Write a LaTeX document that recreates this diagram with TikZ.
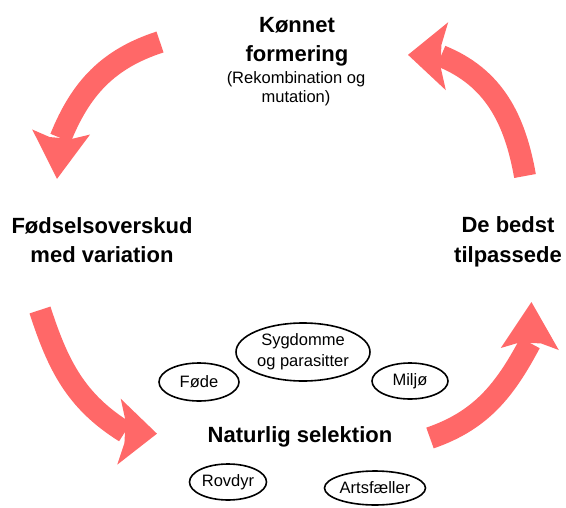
\documentclass[tikz,border=0pt]{standalone}
\usepackage{fontspec}
\setmainfont{Liberation Sans}
\usepgflibrary{shapes.geometric}
\usetikzlibrary{calc}
\definecolor{arrowred}{RGB}{255,104,104}

\begin{document}
\begin{tikzpicture}[thick, x=1pt, y=1pt,
	big/.style={font=\fontsize{22}{29.5}\selectfont\bfseries, align=center, inner sep=0pt},
	small/.style={font=\fontsize{16.5}{19}\selectfont, align=center, inner sep=0pt},
	oval/.style={ellipse, draw, line width=1.6pt, inner sep=0pt, align=center, font=\fontsize{16.5}{21}\selectfont},
	body/.style={arrowred, line width=22pt}]
	\useasboundingbox (0,0) rectangle (566,-507);
	%texts
	\node[big] (konnet) at (297,-42) {Kønnet\\formering};
	\node[small] (rekomb) at (296,-89) {(Rekombination og\\mutation)};
	\node[big] (fodsel) at (102,-240) {Fødselsoverskud\\med variation};
	\node[big] (bedst) at (508,-242) {De bedst\\tilpassede};
	\node[big] (naturlig) at (300,-437) {Naturlig selektion};
	%ellipses
	\node[oval, minimum width=134pt, minimum height=58pt] (sygdom) at (303,-352) {Sygdomme\\og parasitter};
	\node[oval, minimum width=80pt, minimum height=38pt] (fode) at (199,-382) {Føde};
	\node[oval, minimum width=76pt, minimum height=36pt] (miljo) at (410,-381) {Miljø};
	\node[oval, minimum width=77pt, minimum height=36pt] (rovdyr) at (228,-482) {Rovdyr};
	\node[oval, minimum width=101pt, minimum height=34pt] (arts) at (375,-488) {Artsfæller};
	%arrow top left
	\coordinate (a1) at (160,-42);
	\coordinate (b1) at (60.6,-138);
	\draw[body] (a1) to[out=198, in=68] (b1);
	\fill[arrowred] ($(b1)+(175:11)$) -- ($(b1)+(175:29)+(85:6)$) -- ($(b1)+(265:41)$)
		-- ($(b1)+(355:29)+(85:6)$) -- ($(b1)+(355:11)$) -- cycle;
	%arrow bottom left
	\coordinate (a2) at (40,-310);
	\coordinate (b2) at (125,-432);
	\draw[body] (a2) to[out=-72, in=148] (b2);
	\fill[arrowred] ($(b2)+(87:11)$) -- ($(b2)+(87:33)+(177:6)$) -- ($(b2)+(-3:32)$)
		-- ($(b2)+(-93:33)+(177:6)$) -- ($(b2)+(-93:11)$) -- cycle;
	%arrow bottom right
	\coordinate (a3) at (430,-438);
	\coordinate (b3) at (530,-343);
	\draw[body] (a3) to[out=19, in=-118] (b3);
	\fill[arrowred] ($(b3)+(178:11)$) -- ($(b3)+(178:29)+(268:6)$) -- ($(b3)+(88:41)$)
		-- ($(b3)+(-2:29)+(268:6)$) -- ($(b3)+(-2:11)$) -- cycle;
	%arrow top right
	\coordinate (a4) at (525,-176);
	\coordinate (b4) at (441,-56);
	\draw[body] (a4) to[out=100, in=-22] (b4);
	\fill[arrowred] ($(b4)+(268:11)$) -- ($(b4)+(268:34)+(358:6)$) -- ($(b4)+(178:33)$)
		-- ($(b4)+(88:34)+(358:6)$) -- ($(b4)+(88:11)$) -- cycle;
\end{tikzpicture}
\end{document}
